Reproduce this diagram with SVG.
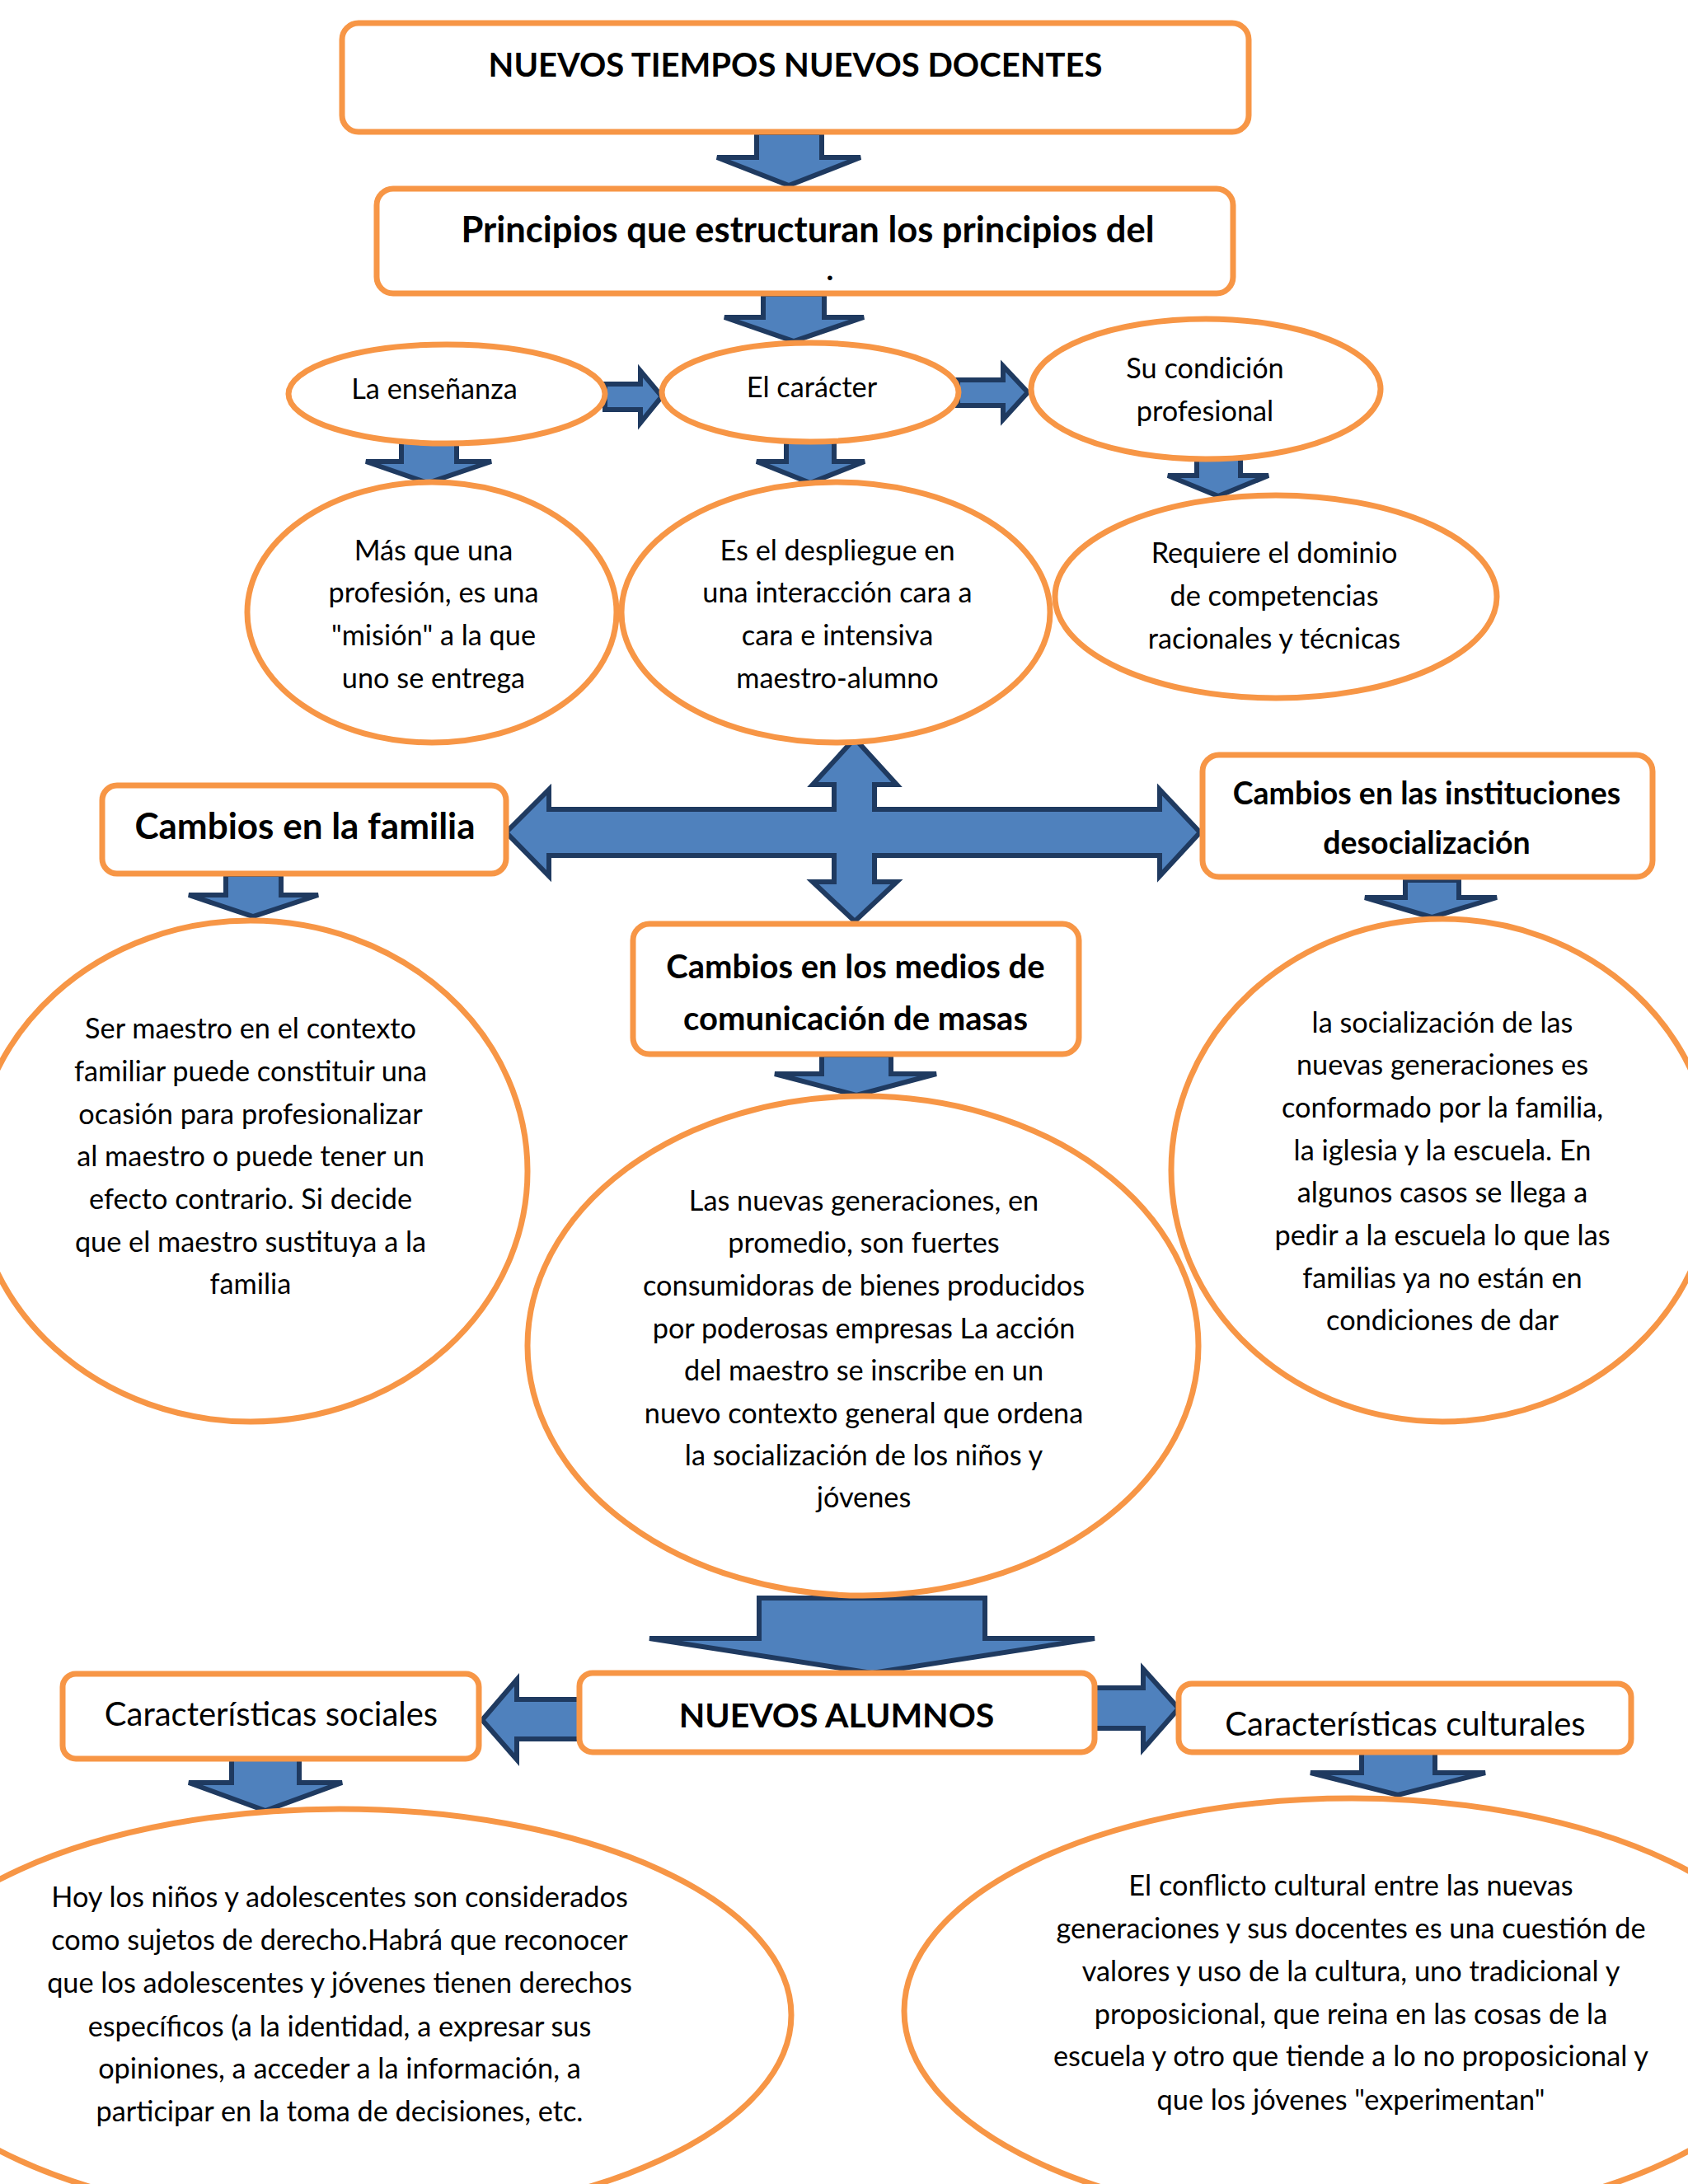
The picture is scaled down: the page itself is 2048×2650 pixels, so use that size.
<svg xmlns="http://www.w3.org/2000/svg" width="2048" height="2650" viewBox="0 0 2048 2650">
<style>
.box{fill:#fff;stroke:#F79646;stroke-width:7}
.ell{fill:#fff;stroke:#F79646;stroke-width:7}
.arr{fill:#4F81BD;stroke:#1F3A60;stroke-width:6;stroke-linejoin:miter}
text{font-family:Lato,"Open Sans","Liberation Sans",sans-serif;fill:#000;text-anchor:middle}
.t{font-size:34.3px}
.b{font-weight:bold}
</style>
<rect width="2048" height="2650" fill="#fff"/>
<g id="connectors">
<polygon class="arr" points="918,161 997,161 997,191 1044,191 957,225 870,191 918,191"/>
<polygon class="arr" points="926,357 1000,357 1000,385 1048,385 963,414 879,385 926,385"/>
<polygon class="arr" points="734,466 777,466 777,450 803,481 777,513 777,497 734,497"/>
<polygon class="arr" points="1162,461 1217,461 1217,444 1247,476 1217,509 1217,492 1162,492"/>
<polygon class="arr" points="487,536 554,536 554,560 596,560 519,586 444,560 487,560"/>
<polygon class="arr" points="954,536 1012,536 1012,560 1049,560 983,586 918,560 954,560"/>
<polygon class="arr" points="1452,554 1505,554 1505,577 1539,577 1478,602 1417,577 1452,577"/>
<polygon class="arr" points="1037,896 1088,952 1061,952 1061,982 1407,982 1407,958 1456,1010 1407,1063 1407,1038 1061,1038 1061,1070 1088,1070 1037,1118 986,1070 1012,1070 1012,1038 666,1038 666,1063 614,1010 666,958 666,982 1012,982 1012,952 986,952"/>
<polygon class="arr" points="274,1061 341,1061 341,1086 386,1086 307,1112 229,1086 274,1086"/>
<polygon class="arr" points="1705,1068 1770,1068 1770,1089 1816,1089 1737,1113 1656,1089 1705,1089"/>
<polygon class="arr" points="997,1280 1081,1280 1081,1303 1136,1303 1039,1329 940,1303 997,1303"/>
<polygon class="arr" points="921,1939 1195,1939 1195,1988 1328,1988 1058,2030 788,1988 921,1988"/>
<polygon class="arr" points="703,2062 627,2062 627,2038 585,2087 627,2135 627,2110 703,2110"/>
<polygon class="arr" points="1328,2048 1387,2048 1387,2025 1430,2073 1387,2122 1387,2097 1328,2097"/>
<polygon class="arr" points="281,2130 363,2130 363,2163 415,2163 322,2197 229,2163 281,2163"/>
<polygon class="arr" points="1652,2123 1741,2123 1741,2151 1802,2151 1696,2178 1590,2151 1652,2151"/>
</g>
<g id="n-titulo">
<rect class="box" x="415" y="28" width="1100" height="132" rx="20"/>
<text class="b" x="965" y="93" font-size="40">NUEVOS TIEMPOS NUEVOS DOCENTES</text>
</g>
<g id="n-principios">
<rect class="box" x="457" y="229" width="1039" height="127" rx="20"/>
<text class="b" x="980" y="294" font-size="43.5">Principios que estructuran los principios del</text>
<text class="b" x="1007" y="340" font-size="37">.</text>
</g>
<g id="n-ensenanza">
<ellipse class="ell" cx="542" cy="478" rx="192" ry="60"/>
<text class="t" x="527" y="484">La enseñanza</text>
</g>
<g id="n-caracter">
<ellipse class="ell" cx="983" cy="476" rx="180" ry="60"/>
<text class="t" x="985" y="482">El carácter</text>
</g>
<g id="n-condicion">
<ellipse class="ell" cx="1463" cy="472" rx="212" ry="85"/>
<text class="t" x="1462" y="459">Su condición</text>
<text class="t" x="1462" y="511">profesional</text>
</g>
<g id="n-mision">
<ellipse class="ell" cx="524" cy="743" rx="224" ry="158"/>
<text class="t" x="526" y="680">Más que una</text>
<text class="t" x="526" y="731">profesión, es una</text>
<text class="t" x="526" y="783">"misión" a la que</text>
<text class="t" x="526" y="835">uno se entrega</text>
</g>
<g id="n-despliegue">
<ellipse class="ell" cx="1014" cy="743" rx="260" ry="158"/>
<text class="t" x="1016" y="680">Es el despliegue en</text>
<text class="t" x="1016" y="731">una interacción cara a</text>
<text class="t" x="1016" y="783">cara e intensiva</text>
<text class="t" x="1016" y="835">maestro-alumno</text>
</g>
<g id="n-dominio">
<ellipse class="ell" cx="1548" cy="724" rx="268" ry="123"/>
<text class="t" x="1546" y="683">Requiere el dominio</text>
<text class="t" x="1546" y="735">de competencias</text>
<text class="t" x="1546" y="787">racionales y técnicas</text>
</g>
<g id="n-familia">
<rect class="box" x="124" y="953" width="490" height="107" rx="18"/>
<text class="b" x="370" y="1018" font-size="44">Cambios en la familia</text>
</g>
<g id="n-instituciones">
<rect class="box" x="1459" y="916" width="546" height="148" rx="20"/>
<text class="b" x="1731" y="976" font-size="37.5">Cambios en las instituciones</text>
<text class="b" x="1731" y="1036" font-size="37.5">desocialización</text>
</g>
<g id="n-medios">
<rect class="box" x="768" y="1121" width="541" height="158" rx="20"/>
<text class="b" x="1038" y="1187" font-size="40">Cambios en los medios de</text>
<text class="b" x="1038" y="1250" font-size="40">comunicación de masas</text>
</g>
<g id="n-ser-maestro">
<ellipse class="ell" cx="304" cy="1421" rx="336" ry="304"/>
<text class="t" x="304" y="1260">Ser maestro en el contexto</text>
<text class="t" x="304" y="1312">familiar puede constituir una</text>
<text class="t" x="304" y="1364">ocasión para profesionalizar</text>
<text class="t" x="304" y="1415">al maestro o puede tener un</text>
<text class="t" x="304" y="1467">efecto contrario. Si decide</text>
<text class="t" x="304" y="1519">que el maestro sustituya a la</text>
<text class="t" x="304" y="1570">familia</text>
</g>
<g id="n-nuevas-generaciones">
<ellipse class="ell" cx="1047" cy="1633" rx="407" ry="303"/>
<text class="t" x="1048" y="1469">Las nuevas generaciones, en</text>
<text class="t" x="1048" y="1520">promedio, son fuertes</text>
<text class="t" x="1048" y="1572">consumidoras de bienes producidos</text>
<text class="t" x="1048" y="1624">por poderosas empresas La acción</text>
<text class="t" x="1048" y="1675">del maestro se inscribe en un</text>
<text class="t" x="1048" y="1727">nuevo contexto general que ordena</text>
<text class="t" x="1048" y="1778">la socialización de los niños y</text>
<text class="t" x="1048" y="1829">jóvenes</text>
</g>
<g id="n-socializacion">
<ellipse class="ell" cx="1750" cy="1420" rx="329" ry="305"/>
<text class="t" x="1750" y="1253">la socialización de las</text>
<text class="t" x="1750" y="1304">nuevas generaciones es</text>
<text class="t" x="1750" y="1356">conformado por la familia,</text>
<text class="t" x="1750" y="1408">la iglesia y la escuela. En</text>
<text class="t" x="1750" y="1459">algunos casos se llega a</text>
<text class="t" x="1750" y="1511">pedir a la escuela lo que las</text>
<text class="t" x="1750" y="1563">familias ya no están en</text>
<text class="t" x="1750" y="1614">condiciones de dar</text>
</g>
<g id="n-nuevos-alumnos">
<rect class="box" x="703" y="2030" width="625" height="96" rx="16"/>
<text class="b" x="1015" y="2096" font-size="41">NUEVOS ALUMNOS</text>
</g>
<g id="n-sociales">
<rect class="box" x="76" y="2031" width="505" height="103" rx="16"/>
<text x="329" y="2094" font-size="40">Características sociales</text>
</g>
<g id="n-culturales">
<rect class="box" x="1430" y="2043" width="549" height="83" rx="16"/>
<text x="1705" y="2106" font-size="40">Características culturales</text>
</g>
<g id="n-derechos">
<ellipse class="ell" cx="412" cy="2445" rx="548" ry="250"/>
<text class="t" x="412" y="2314">Hoy los niños y adolescentes son considerados</text>
<text class="t" x="412" y="2366">como sujetos de derecho.Habrá que reconocer</text>
<text class="t" x="412" y="2418">que los adolescentes y jóvenes tienen derechos</text>
<text class="t" x="412" y="2471">específicos (a la identidad, a expresar sus</text>
<text class="t" x="412" y="2522">opiniones, a acceder a la información, a</text>
<text class="t" x="412" y="2574">participar en la toma de decisiones, etc.</text>
</g>
<g id="n-conflicto">
<ellipse class="ell" cx="1640" cy="2440" rx="543" ry="258"/>
<text class="t" x="1639" y="2300">El conflicto cultural entre las nuevas</text>
<text class="t" x="1639" y="2352">generaciones y sus docentes es una cuestión de</text>
<text class="t" x="1639" y="2404">valores y uso de la cultura, uno tradicional y</text>
<text class="t" x="1639" y="2456">proposicional, que reina en las cosas de la</text>
<text class="t" x="1639" y="2507">escuela y otro que tiende a lo no proposicional y</text>
<text class="t" x="1639" y="2560">que los jóvenes "experimentan"</text>
</g>
</svg>
